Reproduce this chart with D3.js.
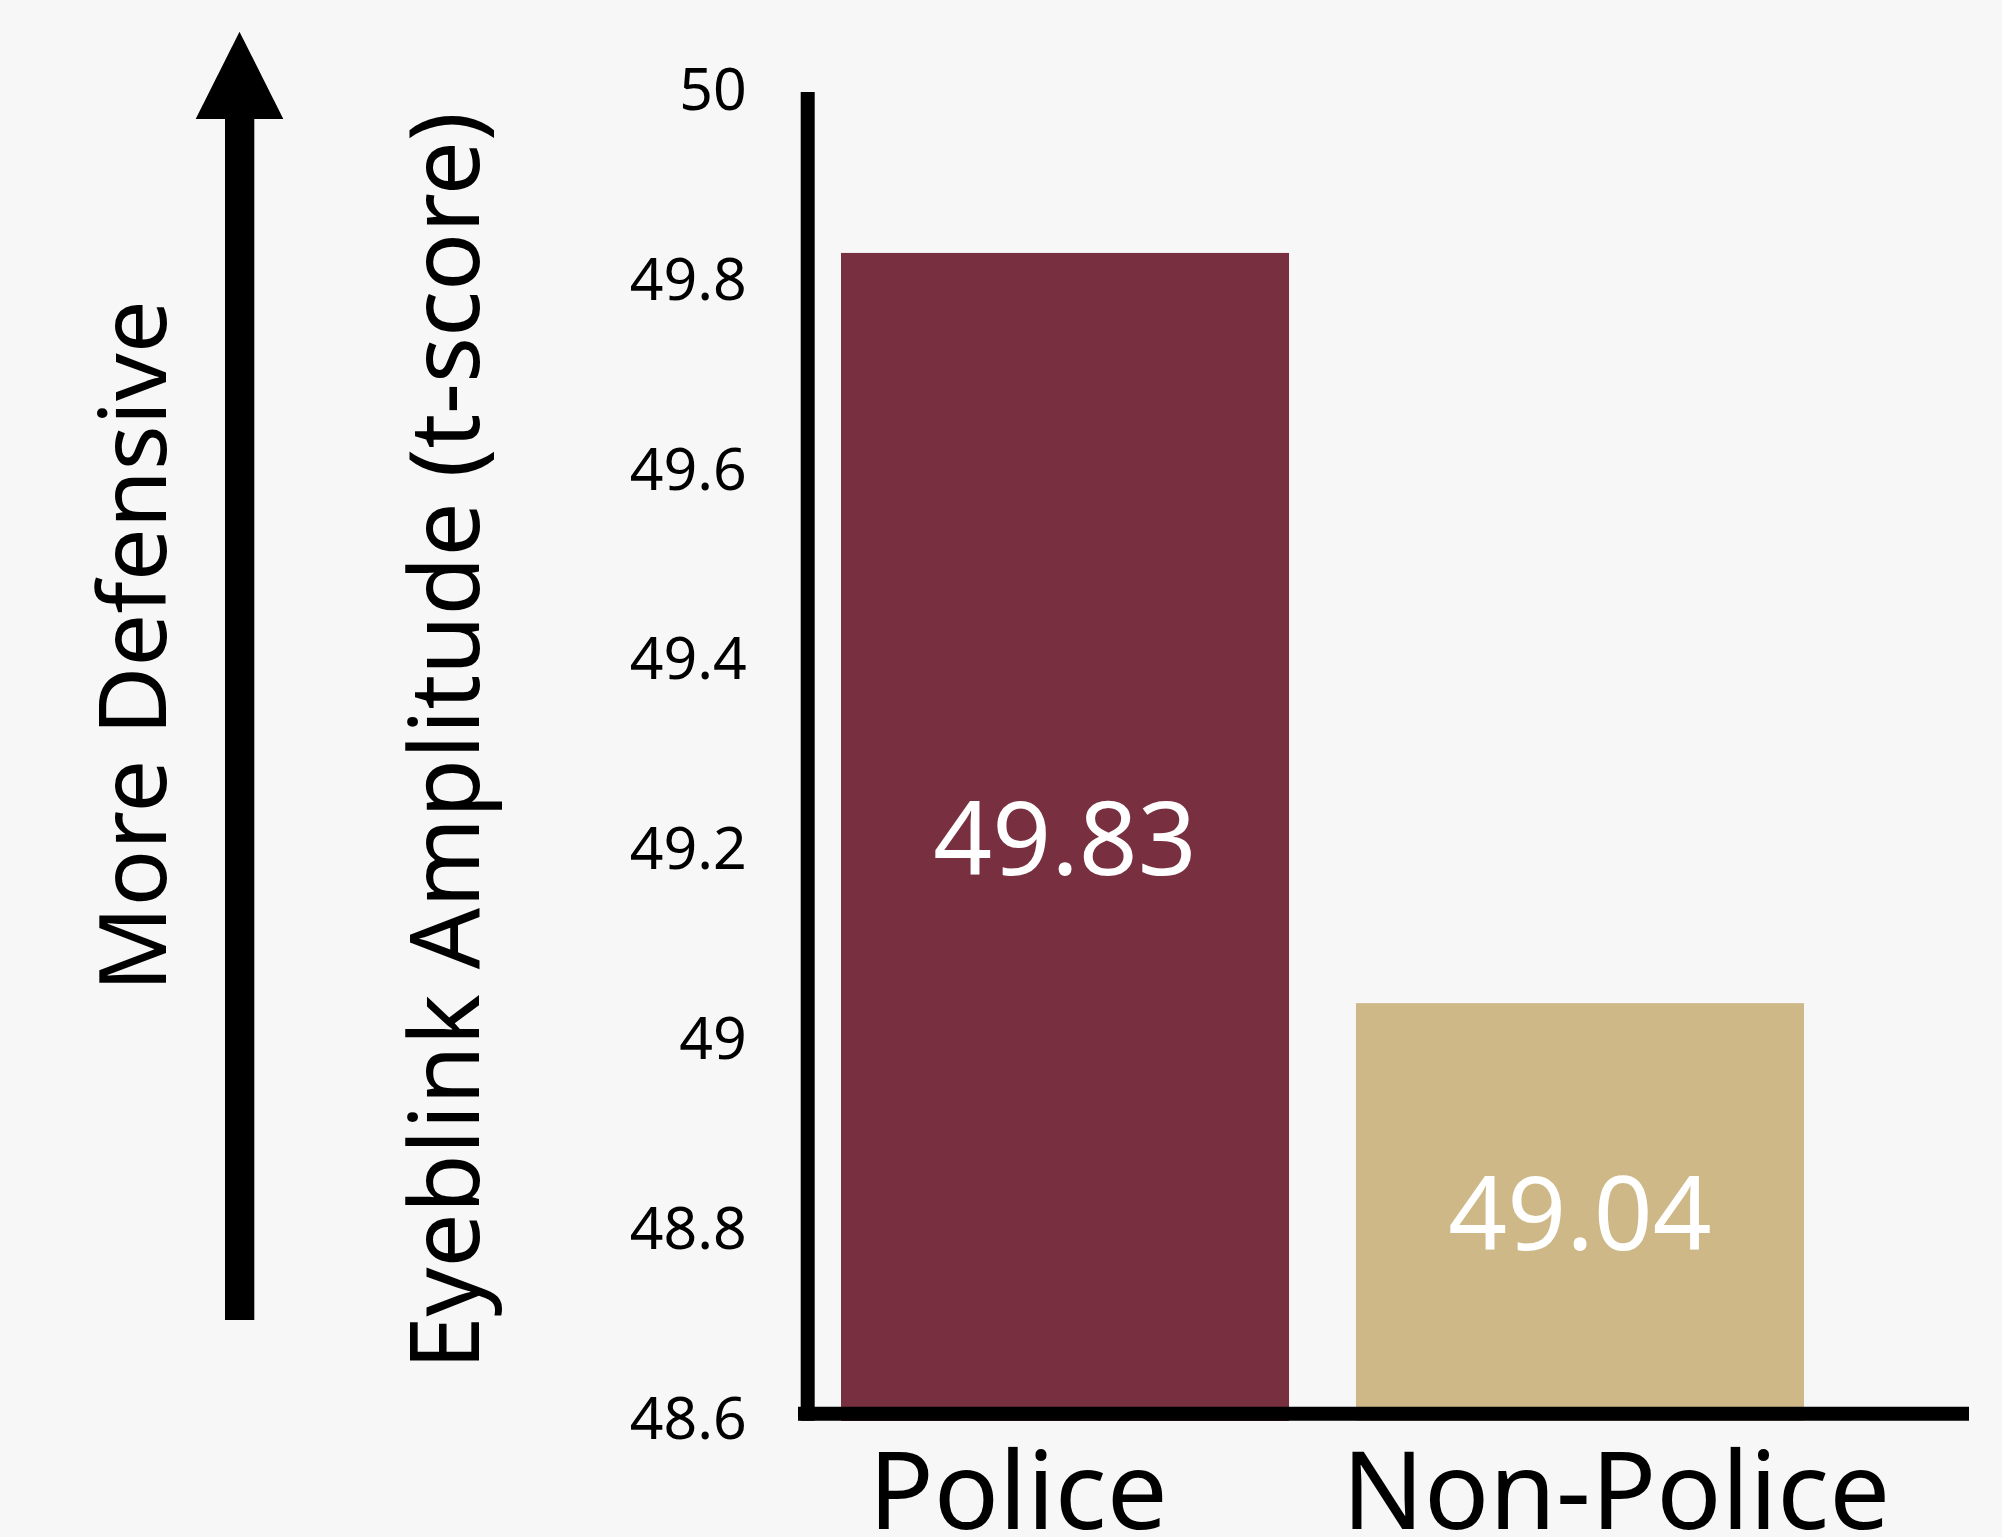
<!DOCTYPE html>
<html>
<head>
<meta charset="utf-8">
<script src="https://cdn.jsdelivr.net/npm/d3@7"></script>
<style>
  html, body { margin: 0; padding: 0; background: #f7f7f7; }
  svg { display: block; font-family: "Noto Sans", "Open Sans", sans-serif; }
</style>
</head>
<body>
<script>
// data
var categories = ['Police', 'Non-Police'];
var values = [49.83, 49.04];
var valueLabels = ['49.83', '49.04'];
var yTicks = [48.6, 48.8, 49, 49.2, 49.4, 49.6, 49.8, 50];
var yTickLabels = ['48.6', '48.8', '49', '49.2', '49.4', '49.6', '49.8', '50'];
var barColors = ['#782f40', '#ceb888'];

var W = 2002, H = 1537;

var svg = d3.select('body').append('svg')
    .attr('width', W).attr('height', H);

svg.append('rect').attr('width', W).attr('height', H).attr('fill', '#f7f7f7');

var y = d3.scaleLinear().domain([48.6, 50]).range([1421, 91.5]);
var x = d3.scaleBand().domain(categories).range([841, 1804]).paddingInner(0.13);
// category captions sit a little off the bar centres in the original
var xLabel = d3.scalePoint().domain(categories).range([1018, 1616]);

// bars
var bars = svg.append('g').attr('class', 'bars');
bars.selectAll('rect').data(categories).enter().append('rect')
    .attr('x', function (d) { return x(d); })
    .attr('width', x.bandwidth())
    .attr('y', function (d, i) { return y(values[i]); })
    .attr('height', function (d, i) { return y(48.6) - y(values[i]); })
    .attr('fill', function (d, i) { return barColors[i]; });

// value labels inside the bars
bars.selectAll('text').data(categories).enter().append('text')
    .attr('x', function (d) { return x(d) + x.bandwidth() / 2; })
    .attr('y', function (d, i) { return (y(values[i]) + y(48.6)) / 2; })
    .attr('dy', '0.37em')
    .attr('text-anchor', 'middle')
    .attr('fill', '#ffffff')
    .attr('font-size', 103)
    .text(function (d, i) { return valueLabels[i]; });

// y axis: line + labels, no tick marks
var yAxis = d3.axisLeft(y).tickValues(yTicks)
    .tickFormat(function (d, i) { return yTickLabels[i]; })
    .tickSize(0).tickPadding(61);
var gy = svg.append('g').attr('transform', 'translate(807.7,0)').call(yAxis);
gy.select('.domain').remove();
gy.selectAll('text').attr('font-size', 59).attr('font-family', '"Noto Sans", sans-serif')
    .attr('fill', '#000').attr('dy', '0.3em');

svg.append('line')
    .attr('x1', 807.7).attr('x2', 807.7)
    .attr('y1', 92).attr('y2', 1420.7)
    .attr('stroke', '#000').attr('stroke-width', 14);

// x axis line
svg.append('line')
    .attr('x1', 798).attr('x2', 1969)
    .attr('y1', 1413.7).attr('y2', 1413.7)
    .attr('stroke', '#000').attr('stroke-width', 14);

// category labels
svg.append('g').selectAll('text').data(categories).enter().append('text')
    .attr('x', function (d) { return xLabel(d); })
    .attr('y', 1529)
    .attr('text-anchor', 'middle')
    .attr('font-size', 108)
    .attr('fill', '#000')
    .text(function (d) { return d; });

// axis title
svg.append('text')
    .attr('transform', 'translate(478.5,741) rotate(-90)')
    .attr('text-anchor', 'middle')
    .attr('font-size', 96)
    .attr('fill', '#000')
    .text('Eyeblink Amplitude (t-score)');

// "More Defensive" arrow
svg.append('text')
    .attr('transform', 'translate(165.5,646) rotate(-90)')
    .attr('text-anchor', 'middle')
    .attr('font-size', 94)
    .attr('fill', '#000')
    .text('More Defensive');

svg.append('rect')
    .attr('x', 225).attr('y', 110)
    .attr('width', 29.3).attr('height', 1210)
    .attr('fill', '#000');
svg.append('path')
    .attr('d', 'M239.5,31.7 L283.3,119 L195.7,119 Z')
    .attr('fill', '#000');
</script>
</body>
</html>
